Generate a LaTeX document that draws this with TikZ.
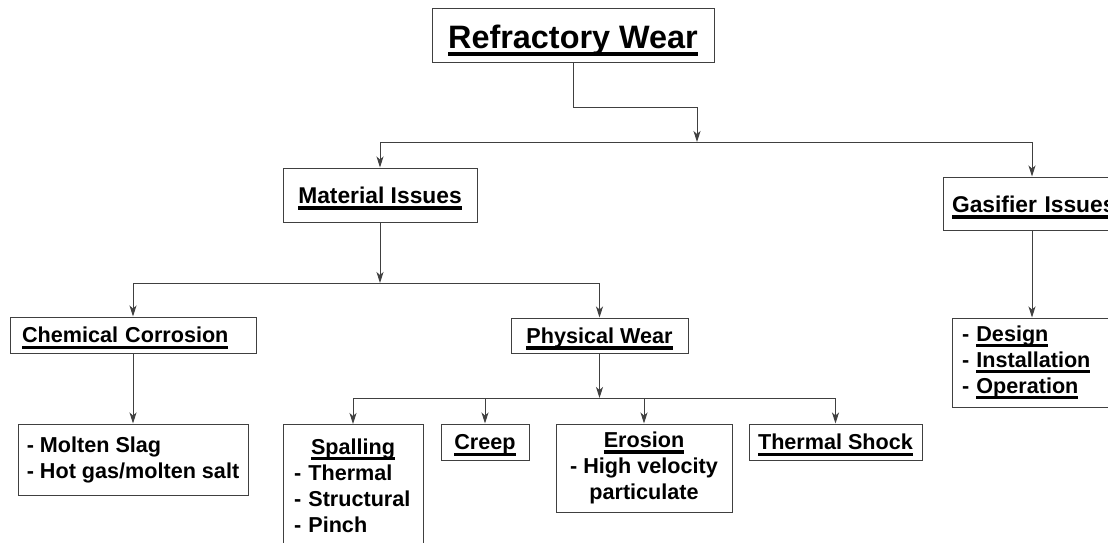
\documentclass[tikz,border=0pt]{standalone}
\usepackage{fontspec}
\setmainfont{Liberation Sans}
\usetikzlibrary{arrows.meta}

\newcommand{\undl}[2][0.29em]{\setbox0=\hbox{#2}\rlap{\vrule width\wd0 height -0.13em depth #1}\box0}

\begin{document}
\begin{tikzpicture}[
x=1pt,y=-1pt,
->,
>={Stealth[length=11pt,width=7pt,inset=3pt]},
line width=1pt,
color=black!75,
box/.style={
draw,
fill=white,
text=black,
inner ysep=0pt,
align=center,
font=\bfseries\fontsize{21.6}{26}\selectfont
},
oneline/.style={text height=22pt,text depth=6.5pt},
topbox/.style={box,font=\bfseries\fontsize{32.4}{38}\selectfont,text height=34pt,text depth=9.8pt},
midbox/.style={box,font=\bfseries\fontsize{22.8}{27}\selectfont,text height=24pt,text depth=7pt}
]

\useasboundingbox (0,0) rectangle (1108,543);
\fill[white] (0,0) rectangle (1108,543);
\clip (0,0) rectangle (1108,543);

\node[topbox,minimum width=282pt,minimum height=54pt] (rw) at (573,36) {\undl[0.23em]{Refractory Wear}};
\node[midbox,minimum width=194pt,minimum height=54pt] (mat) at (380,195) {\undl{Material Issues}};
\node[midbox,align=left,inner xsep=9pt,text width=160pt,minimum height=53pt] (gas) at (1032,203.5) {\undl{Gasifier Issues}};

\node[box,oneline,align=left,inner xsep=12pt,text width=222pt,minimum height=36pt] (cc) at (133,335) {\undl{Chemical Corrosion}};
\node[box,oneline,minimum width=177pt,minimum height=35pt] (pw) at (599.5,335.5) {\undl{Physical Wear}};
\node[box,align=left,inner xsep=10pt,text width=140pt,minimum height=89pt] (des) at (1032,362.5) {- \undl{Design}\\- \undl{Installation}\\- \undl{Operation}};

\node[box,align=left,minimum width=230pt,minimum height=71pt] (ms) at (133,459.5) {- Molten Slag\\- Hot gas/molten salt};
\node[box,align=left,anchor=north,inner xsep=11pt,inner ysep=14pt,text width=118pt] (sp) at (353,424) {\hfill\undl{Spalling}\hfill\mbox{}\\- Thermal\\- Structural\\- Pinch};
\node[box,oneline,minimum width=88pt,minimum height=36pt] (cr) at (485,442) {\undl{Creep}};
\node[box,minimum width=176pt,minimum height=88pt] (er) at (644,468) {\undl{Erosion}\\- High velocity\\particulate};
\node[box,oneline,minimum width=173pt,minimum height=36pt] (ts) at (835.5,442) {\undl{Thermal Shock}};

\coordinate (k0) at (697,107);
\coordinate (j0) at (697,142);
\coordinate (j1) at (380,283);
\coordinate (j2) at (599.5,398);

\draw (rw.south) |- (k0) -- (j0);
\draw (j0) -| (mat.north);
\draw (j0) -| (gas.north);
\draw (mat) -- (j1);
\draw (j1) -| (cc.north);
\draw (j1) -| (pw.north);
\draw (cc) -- (ms);
\draw (gas) -- (des);
\draw (pw) -- (j2);
\draw (j2) -| (sp.north);
\draw (j2) -| (cr.north);
\draw (j2) -| (er.north);
\draw (j2) -| (ts.north);

\end{tikzpicture}
\end{document}
